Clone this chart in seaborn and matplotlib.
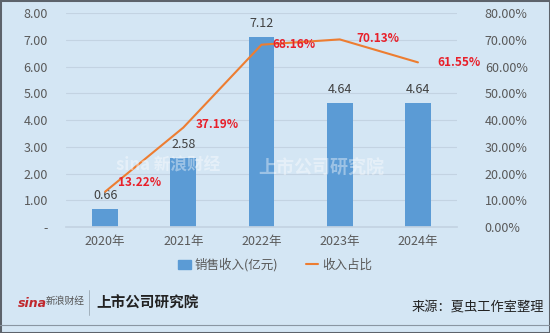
import matplotlib
matplotlib.use("Agg")
import matplotlib.pyplot as plt
from matplotlib.patches import Rectangle
from matplotlib.lines import Line2D
import seaborn as sns
import pandas as pd

years = ["2020年", "2021年", "2022年", "2023年", "2024年"]
revenue = [0.66, 2.58, 7.12, 4.64, 4.64]
share = [13.22, 37.19, 68.16, 70.13, 61.55]
left_ticks = [0, 1, 2, 3, 4, 5, 6, 7, 8]
right_ticks = [0, 10, 20, 30, 40, 50, 60, 70, 80]

BG = "#d4e6f4"
BAR = "#5b9bd5"
LINE = "#ed7d31"
TXT = "#595959"

sns.set_theme(style="white")
plt.rcParams["font.family"] = ["Noto Sans CJK SC", "DejaVu Sans"]

df = pd.DataFrame({"year": years, "revenue": revenue, "share": share})

fig = plt.figure(figsize=(5.5, 3.33), dpi=100, facecolor=BG)
ax = fig.add_axes([0.12, 0.318, 0.711, 0.643])
ax.set_facecolor(BG)

sns.barplot(data=df, x="year", y="revenue", color=BAR, width=0.33,
            saturation=1, linewidth=0, ax=ax, zorder=2)
ax.set_ylim(0, 8)
ax.set_xlim(-0.5, 4.5)
ax.set_yticks(left_ticks)
ax.set_yticklabels(["-" if v == 0 else f"{v:.2f}" for v in left_ticks])
ax.grid(axis="y", color="#c3d3e2", linewidth=0.8, zorder=0)
ax.set_axisbelow(True)
for s in ax.spines.values():
    s.set_visible(False)
ax.spines["bottom"].set_visible(True)
ax.spines["bottom"].set_color("#c3d3e2")
ax.tick_params(axis="y", colors=TXT, labelsize=9, length=0, pad=13)
ax.tick_params(axis="x", colors=TXT, labelsize=9, length=0, pad=6)
ax.set_xlabel("")
ax.set_ylabel("")

for i, v in enumerate(revenue):
    ax.annotate(f"{v:.2f}", (i, v), xytext=(0, 5), textcoords="offset points",
                ha="center", va="bottom", fontsize=9, color="#404040")

ax2 = ax.twinx()
sns.lineplot(data=df, x="year", y="share", color=LINE, linewidth=1.5,
             sort=False, ax=ax2)
ax2.set_ylim(0, 80)
ax2.set_yticks(right_ticks)
ax2.set_yticklabels([f"{v:.2f}%" for v in right_ticks])
for s in ax2.spines.values():
    s.set_visible(False)
ax2.tick_params(axis="y", colors=TXT, labelsize=9, length=0, pad=20)
ax2.set_ylabel("")
ax2.grid(False)

offsets = [(9, 7), (9, 2), (8, 0), (12, 1), (14, 0)]
for i, (v, off) in enumerate(zip(share, offsets)):
    ax2.annotate(f"{v:.2f}%", (i, v), xytext=off, textcoords="offset points",
                 ha="left", va="center", fontsize=8.5, color="#e8202a",
                 fontweight="bold")

handles = [Rectangle((0, 0), 1, 1, color=BAR),
           Line2D([0], [0], color=LINE, linewidth=1.5)]
fig.legend(handles, ["销售收入(亿元)", "收入占比"], loc="center",
           bbox_to_anchor=(0.5, 0.204), ncol=2, frameon=False, fontsize=9,
           labelcolor=TXT, handlelength=1.0, handleheight=0.8,
           columnspacing=2.2, handletextpad=0.3)

# faint watermark
fig.text(0.21, 0.503, "sina 新浪财经", fontsize=12, color="white", alpha=0.4,
         fontweight="bold", ha="left", va="center", style="italic")
fig.text(0.47, 0.495, "上市公司研究院", fontsize=13, color="white", alpha=0.4,
         fontweight="bold", ha="left", va="center", style="italic")

# footer
fig.text(0.032, 0.09, "sina", fontsize=9, color="#c0282d", fontweight="bold",
         style="italic", ha="left", va="center", family=["DejaVu Sans"])
fig.text(0.083, 0.095, "新浪财经", fontsize=7, color="#555555", style="italic",
         ha="left", va="center")
fig.add_artist(Line2D([0.162, 0.162], [0.055, 0.13], color="#9aa8b4", linewidth=0.6))
fig.text(0.175, 0.09, "上市公司研究院", fontsize=10.5, color="#222222",
         fontweight="bold", style="italic", ha="left", va="center")
fig.text(0.99, 0.077, "来源：夏虫工作室整理", fontsize=9.5, color="#222222",
         ha="right", va="center")
fig.add_artist(Line2D([0, 1], [0.024, 0.024], color="#8a96a2", linewidth=0.8))
fig.add_artist(Rectangle((0, 0), 1, 1, transform=fig.transFigure, fill=False,
                         edgecolor="#5d636b", linewidth=2.2))

fig.savefig("out.png", dpi=100, facecolor=BG)
